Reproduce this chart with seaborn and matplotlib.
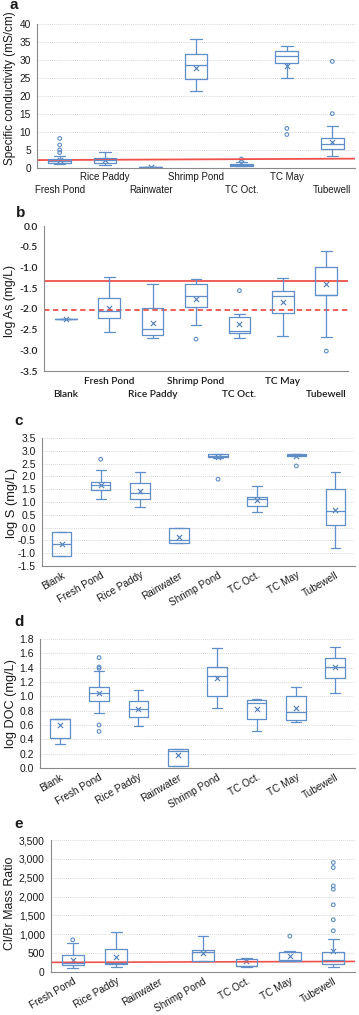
import numpy as np
import pandas as pd
import matplotlib
matplotlib.use('Agg')
from matplotlib import pyplot as plt
from matplotlib.ticker import FuncFormatter
import seaborn as sns

# ---- panel a: specific conductivity (mS/cm)
a_cats = ['Fresh Pond', 'Rice Paddy', 'Rainwater', 'Shrimp Pond', 'TC Oct.', 'TC May', 'Tubewell']
a_lo = [1.2, 0.75, 0.2, 21.3, 0.5, 25.1, 3.2]
a_q1 = [1.4, 1.3, 0.2, 24.7, 0.55, 29.1, 5.2]
a_med = [2.0, 2.1, 0.2, 28.5, 0.85, 31.2, 6.8]
a_q3 = [2.6, 2.8, 0.25, 31.8, 1.1, 32.6, 8.2]
a_hi = [3.4, 4.4, 0.3, 35.9, 1.6, 34.0, 11.8]
a_mean = [2.2, 2.1, 0.2, 27.9, 1.4, 28.2, 7.2]
a_out = [[8.2, 6.4, 5.0, 4.3], [], [], [], [2.5], [11.0, 9.3], [15.1, 29.6]]
a_ref = [2.2, 2.6]

# ---- panel b: log As (mg/L)
b_cats = ['Blank', 'Fresh Pond', 'Rice Paddy', 'Shrimp Pond', 'TC Oct.', 'TC May', 'Tubewell']
b_lo = [-2.24, -2.56, -2.70, -2.40, -2.70, -2.65, -2.69]
b_q1 = [-2.24, -2.23, -2.63, -1.96, -2.59, -2.09, -1.67]
b_med = [-2.24, -2.06, -2.48, -1.69, -2.54, -1.69, -1.66]
b_q3 = [-2.24, -1.73, -1.99, -1.41, -2.19, -1.57, -0.98]
b_hi = [-2.24, -1.23, -1.41, -1.28, -2.13, -1.26, -0.60]
b_mean = [-2.24, -1.98, -2.33, -1.77, -2.37, -1.84, -1.40]
b_out = [[], [], [], [-2.73], [-1.56], [], [-3.02]]
b_ref_solid = -1.32
b_ref_dash = -2.02

# ---- panel c: log S (mg/L)
cd_cats = ['Blank', 'Fresh Pond', 'Rice Paddy', 'Rainwater', 'Shrimp Pond', 'TC Oct.', 'TC May', 'Tubewell']
c_lo = [-1.11, 1.12, 0.80, -0.60, 2.73, 0.62, 2.78, -0.80]
c_q1 = [-1.11, 1.48, 1.13, -0.60, 2.75, 0.86, 2.80, 0.11]
c_med = [-0.63, 1.65, 1.36, -0.47, 2.80, 1.10, 2.83, 0.65]
c_q3 = [-0.17, 1.79, 1.76, -0.02, 2.86, 1.20, 2.86, 1.51]
c_hi = [-0.17, 2.25, 2.16, -0.02, 2.88, 1.62, 2.88, 2.16]
c_mean = [-0.63, 1.66, 1.42, -0.37, 2.77, 1.07, 2.80, 0.70]
c_out = [[], [2.67], [], [], [1.89], [], [2.41], []]

# ---- panel d: log DOC (mg/L)
d_lo = [0.33, 0.77, 0.58, 0.03, 0.84, 0.51, 0.64, 1.04]
d_q1 = [0.42, 0.94, 0.71, 0.03, 1.01, 0.69, 0.67, 1.26]
d_med = [0.68, 1.04, 0.83, 0.24, 1.28, 0.91, 0.78, 1.41]
d_q3 = [0.69, 1.13, 0.93, 0.26, 1.41, 0.95, 1.00, 1.53]
d_hi = [0.69, 1.35, 1.09, 0.26, 1.67, 0.96, 1.13, 1.69]
d_mean = [0.60, 1.04, 0.83, 0.18, 1.25, 0.83, 0.84, 1.41]
d_out = [[], [1.54, 1.41, 1.39, 0.60, 0.51], [], [], [], [], [], []]

# ---- panel e: Cl/Br mass ratio (no rainwater data)
e_cats = ['Fresh Pond', 'Rice Paddy', 'Rainwater', 'Shrimp Pond', 'TC Oct.', 'TC May', 'Tubewell']
e_lo = [95, 122, None, 290, 120, 282, 132]
e_q1 = [193, 220, None, 295, 148, 299, 220]
e_med = [228, 232, None, 520, 155, 323, 307]
e_q3 = [450, 600, None, 575, 352, 529, 529]
e_hi = [775, 1066, None, 952, 370, 555, 873]
e_mean = [330, 392, None, 515, 299, 413, 570]
e_out = [[854], [], [], [], [], [952], [1094, 1385, 1782, 2196, 2284, 2770, 2902]]
e_ref = [255, 280]

BLUE = '#5f8ec8'
XBLUE = '#4d7bb8'
RED = '#f0504a'
AXC = '#8a8a8a'
W, H = 359, 1015

sns.set_theme(style='white')
plt.rcParams['font.family'] = ['Liberation Sans', 'DejaVu Sans']
plt.rcParams['text.color'] = '#1a1a1a'
plt.rcParams['xtick.color'] = '#1a1a1a'
plt.rcParams['ytick.color'] = '#1a1a1a'

fig = plt.figure(figsize=(W / 100, H / 100), dpi=100)


def make_ax(left, right, top, bottom):
    return fig.add_axes([left / W, 1 - bottom / H, (right - left) / W, (bottom - top) / H])


def draw_boxes(ax, cats, lo, q1, med, q3, hi, mean, out):
    rows = []
    for i, c in enumerate(cats):
        if lo[i] is None:
            continue
        for v in (lo[i], q1[i], med[i], q3[i], hi[i]):
            rows.append({'group': c, 'value': v})
    df = pd.DataFrame(rows)
    sns.boxplot(data=df, x='group', y='value', order=cats, ax=ax, whis=(0, 100),
                showfliers=False, fill=False, color=BLUE, linewidth=0.9, width=0.5)
    mx = [i for i in range(len(cats)) if mean[i] is not None]
    my = [mean[i] for i in mx]
    sns.scatterplot(x=mx, y=my, ax=ax, marker='x', s=14, color=XBLUE, linewidth=0.8, legend=False)
    fx = [i for i in range(len(cats)) for v in out[i]]
    fy = [v for i in range(len(cats)) for v in out[i]]
    if fx:
        sns.scatterplot(x=fx, y=fy, ax=ax, marker='o', s=7, facecolors='none',
                        edgecolor=BLUE, linewidth=0.8, legend=False)
    n = len(cats)
    ax.set_xlim(-0.5, n - 0.5)
    ax.set_xlabel('')
    ax.set_ylabel('')
    ax.set_xticks(np.arange(n))
    ax.set_xticks(np.arange(n + 1) - 0.5, minor=True)
    ax.tick_params(axis='x', which='major', length=0)
    ax.tick_params(axis='x', which='minor', length=3, color=AXC, width=0.7, direction='out')
    ax.tick_params(axis='y', which='major', length=2.5, color=AXC, width=0.7, direction='out', pad=2)
    for s in ('top', 'right'):
        ax.spines[s].set_visible(False)
    for s in ('left', 'bottom'):
        ax.spines[s].set_color(AXC)
        ax.spines[s].set_linewidth(0.8)


def staggered(ax, cats, pad, dy, **kw):
    # odd categories on the upper row as tick labels, even ones one row lower
    ax.set_xticklabels([c if i % 2 else '' for i, c in enumerate(cats)], **kw)
    ax.tick_params(axis='x', which='major', pad=pad)
    for i, c in enumerate(cats):
        if i % 2 == 0:
            ax.annotate(c, xy=(i, 0), xycoords=('data', 'axes fraction'),
                        xytext=(0, -(pad + dy)), textcoords='offset points',
                        ha='center', va='top', **kw)


def grid(ax):
    ax.yaxis.grid(True, linestyle=(0, (1, 1.5)), color='#c8c8c8', linewidth=0.6)
    ax.set_axisbelow(True)


# ---- a
ax = make_ax(37, 355, 24, 168)
grid(ax)
draw_boxes(ax, a_cats, a_lo, a_q1, a_med, a_q3, a_hi, a_mean, a_out)
ax.plot([-0.5, len(a_cats) - 0.5], a_ref, color=RED, lw=1.3, zorder=1)
ax.set_ylim(0, 40)
ax.set_yticks(np.arange(0, 41, 5))
staggered(ax, a_cats, 3, 9, fontsize=7)
ax.tick_params(axis='y', labelsize=7.3)
fig.text(10 / W, 1 - 88 / H, 'Specific conductivity (mS/cm)', rotation=90, ha='center', va='center', fontsize=8.5)
fig.text(14 / W, 1 - 5 / H, 'a', ha='center', va='center', fontsize=11, fontweight='bold')

# ---- b
ax = make_ax(44, 348, 226, 371)
draw_boxes(ax, b_cats, b_lo, b_q1, b_med, b_q3, b_hi, b_mean, b_out)
ax.axhline(b_ref_solid, color=RED, lw=1.3, zorder=1)
ax.axhline(b_ref_dash, color=RED, lw=1.3, ls=(0, (3, 2)), zorder=1)
ax.set_ylim(-3.5, 0)
ax.set_yticks(np.arange(-3.5, 0.01, 0.5))
ax.yaxis.set_major_formatter(FuncFormatter(lambda v, p: f'{v:.1f}'))
staggered(ax, b_cats, 4, 9.4, fontsize=7.3, family=['Lato', 'DejaVu Sans'], fontweight='semibold')
for t in ax.get_yticklabels():
    t.set_family(['Lato', 'DejaVu Sans'])
    t.set_fontweight('semibold')
    t.set_fontsize(7.5)
fig.text(10 / W, 1 - 301 / H, 'log As (mg/L)', rotation=90, ha='center', va='center', fontsize=8.7)
fig.text(21 / W, 1 - 213 / H, 'b', ha='center', va='center', fontsize=11, fontweight='bold')

# ---- c
ax = make_ax(42, 355, 438, 566)
grid(ax)
draw_boxes(ax, cd_cats, c_lo, c_q1, c_med, c_q3, c_hi, c_mean, c_out)
ax.set_ylim(-1.5, 3.5)
ax.set_yticks(np.arange(-1.5, 3.51, 0.5))
ax.yaxis.set_major_formatter(FuncFormatter(lambda v, p: f'{v:.1f}'))
ax.set_xticklabels(cd_cats, fontsize=7.2, rotation=30, ha='right', rotation_mode='anchor')
ax.tick_params(axis='x', which='major', pad=3)
ax.tick_params(axis='y', labelsize=7.5)
fig.text(12 / W, 1 - 503 / H, 'log S (mg/L)', rotation=90, ha='center', va='center', fontsize=9.3)
fig.text(19 / W, 1 - 421 / H, 'c', ha='center', va='center', fontsize=11, fontweight='bold')

# ---- d
ax = make_ax(40, 355, 639, 768)
grid(ax)
draw_boxes(ax, cd_cats, d_lo, d_q1, d_med, d_q3, d_hi, d_mean, d_out)
ax.set_ylim(0, 1.8)
ax.set_yticks(np.arange(0, 1.81, 0.2))
ax.yaxis.set_major_formatter(FuncFormatter(lambda v, p: f'{v:.1f}'))
ax.set_xticklabels(cd_cats, fontsize=7.2, rotation=30, ha='right', rotation_mode='anchor')
ax.tick_params(axis='x', which='major', pad=3)
ax.tick_params(axis='y', labelsize=7.5)
fig.text(11 / W, 1 - 703 / H, 'log DOC (mg/L)', rotation=90, ha='center', va='center', fontsize=9.2)
fig.text(19 / W, 1 - 622 / H, 'd', ha='center', va='center', fontsize=11, fontweight='bold')

# ---- e
ax = make_ax(51, 355, 840, 972)
grid(ax)
draw_boxes(ax, e_cats, e_lo, e_q1, e_med, e_q3, e_hi, e_mean, e_out)
ax.plot([-0.5, len(e_cats) - 0.5], e_ref, color=RED, lw=1.2, zorder=1)
ax.set_ylim(0, 3500)
ax.set_yticks(np.arange(0, 3501, 500))
ax.yaxis.set_major_formatter(FuncFormatter(lambda v, p: f'{v:,.0f}'))
ax.set_xticklabels(e_cats, fontsize=7.2, rotation=30, ha='right', rotation_mode='anchor')
ax.tick_params(axis='x', which='major', pad=3)
ax.tick_params(axis='y', labelsize=7.5)
fig.text(10 / W, 1 - 903 / H, 'Cl/Br Mass Ratio', rotation=90, ha='center', va='center', fontsize=8.9)
fig.text(19 / W, 1 - 824 / H, 'e', ha='center', va='center', fontsize=11, fontweight='bold')

fig.savefig('out.png', dpi=100)
